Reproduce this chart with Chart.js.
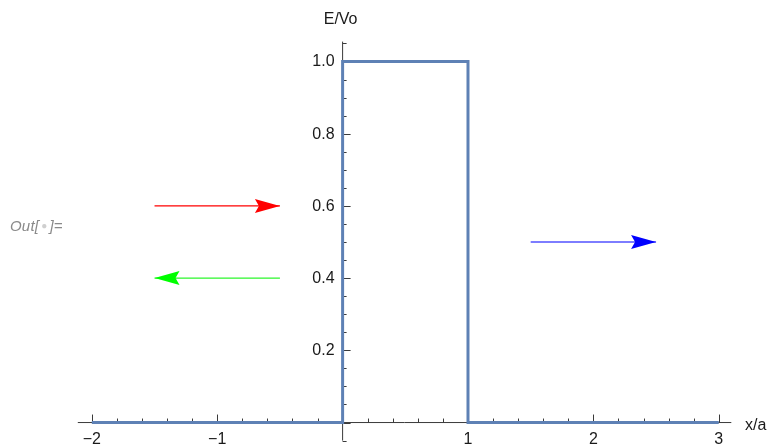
<!DOCTYPE html>
<html>
<head>
<meta charset="utf-8">
<script src="https://cdn.jsdelivr.net/npm/chart.js@4/dist/chart.umd.min.js"></script>
<style>
html,body{margin:0;padding:0;background:#fff;}
#wrap{position:relative;width:770px;height:448px;}
#out{position:absolute;left:10px;top:217px;font-family:"Liberation Sans",Arial,sans-serif;font-style:italic;font-size:15px;color:#8a8a8a;white-space:nowrap;letter-spacing:0.2px;}
#out .dot{color:#cfcfcf;font-style:normal;font-size:10px;vertical-align:2px;padding:0 2px;}
</style>
</head>
<body>
<div id="wrap">
<canvas id="c" width="770" height="448"></canvas>
<div id="out">Out[<span class="dot">&#9679;</span>]=</div>
</div>
<script>
// Step potential E/Vo vs x/a
const stepX = [-2, 0, 0, 1, 1, 3];
const stepY = [0, 0, 1, 1, 0, 0];
// Arrows: start x, end x (tip), y level, colour
const arrowStartX = [-1.5, -0.5, 1.5];
const arrowEndX   = [-0.5, -1.5, 2.5];
const arrowY      = [0.6, 0.4, 0.5];
const arrowColors = ['#ff0000', '#00ff00', '#0000ff'];
const arrowLineColors = ['rgba(255,0,0,1)', 'rgba(20,245,20,0.9)', 'rgba(50,50,255,0.85)'];
// Axis ticks
const xMajorTicks = [-2, -1, 0, 1, 2, 3];
const xTickLabels = ['\u22122', '\u22121', '', '1', '2', '3'];
const yMajorTicks = [0.2, 0.4, 0.6, 0.8, 1.0];
const yTickLabels = ['0.2', '0.4', '0.6', '0.8', '1.0'];
const xRange = [-2.1, 3.1];
const yRange = [-0.05, 1.055];

const FONT = '"Liberation Sans", Arial, sans-serif';

const datasets = [{
  label: 'V',
  data: stepX.map((x, i) => ({x, y: stepY[i]})),
  borderColor: '#5e81b5',
  borderWidth: 3,
  pointRadius: 0,
  tension: 0,
  fill: false,
  order: 0
}];
arrowStartX.forEach((sx, i) => {
  datasets.push({
    label: 'arrow' + i,
    data: [{x: sx, y: arrowY[i]}, {x: arrowEndX[i], y: arrowY[i]}],
    borderColor: arrowLineColors[i],
    borderWidth: 1.3,
    pointRadius: 0,
    fill: false,
    arrow: true,
    headColor: arrowColors[i],
    order: 1
  });
});

const axesPlugin = {
  id: 'axes',
  beforeDatasetsDraw(chart) {
    const ctx = chart.ctx, xs = chart.scales.x, ys = chart.scales.y;
    const x0 = xs.getPixelForValue(0), y0 = ys.getPixelForValue(0);
    ctx.save();
    ctx.strokeStyle = '#3a3a3a';
    ctx.lineWidth = 1;
    ctx.beginPath();
    ctx.moveTo(xs.left - 1.5, y0); ctx.lineTo(xs.right, y0);
    ctx.moveTo(x0, ys.top); ctx.lineTo(x0, ys.bottom);
    ctx.stroke();
    ctx.beginPath();
    for (let k = -10; k <= 15; k++) {
      const v = k / 5;
      const px = Math.round(xs.getPixelForValue(v)) + 0.5;
      const major = k % 5 === 0;
      ctx.moveTo(px, y0); ctx.lineTo(px, y0 - (major ? 8 : 4));
    }
    for (let k = -1; k <= 21; k++) {
      const v = k / 20;
      const py = Math.round(ys.getPixelForValue(v)) + 0.5;
      const major = k % 4 === 0;
      ctx.moveTo(x0, py); ctx.lineTo(x0 + (major ? 8 : 4), py);
    }
    ctx.stroke();
    ctx.fillStyle = '#1a1a1a';
    ctx.font = '16px ' + FONT;
    ctx.textAlign = 'center'; ctx.textBaseline = 'middle';
    xMajorTicks.forEach((v, i) => {
      if (xTickLabels[i]) ctx.fillText(xTickLabels[i], xs.getPixelForValue(v), y0 + 17);
    });
    ctx.textAlign = 'right';
    yMajorTicks.forEach((v, i) => {
      ctx.fillText(yTickLabels[i], x0 - 8, ys.getPixelForValue(v) + 0.5);
    });
    ctx.textAlign = 'center';
    ctx.fillText('E/Vo', x0 - 2, 20);
    ctx.textAlign = 'left';
    ctx.fillText('x/a', 745, y0 + 3);
    ctx.restore();
  },
  afterDatasetsDraw(chart) {
    const ctx = chart.ctx;
    chart.data.datasets.forEach((ds, i) => {
      if (!ds.arrow) return;
      const meta = chart.getDatasetMeta(i);
      const a = meta.data[0], b = meta.data[1];
      const dir = Math.sign(b.x - a.x);
      const L = 25, H = 7, N = 21;
      ctx.save();
      ctx.fillStyle = ds.headColor;
      ctx.beginPath();
      ctx.moveTo(b.x, b.y);
      ctx.lineTo(b.x - dir * L, b.y - H);
      ctx.lineTo(b.x - dir * N, b.y);
      ctx.lineTo(b.x - dir * L, b.y + H);
      ctx.closePath();
      ctx.fill();
      ctx.restore();
    });
  }
};

new Chart(document.getElementById('c'), {
  type: 'line',
  data: { datasets },
  options: {
    responsive: false,
    animation: false,
    layout: { padding: { left: 79.3, right: 38.7, top: 41.6, bottom: 7.4 } },
    plugins: { legend: { display: false }, tooltip: { enabled: false } },
    scales: {
      x: { type: 'linear', min: xRange[0], max: xRange[1], display: false },
      y: { type: 'linear', min: yRange[0], max: yRange[1], display: false }
    }
  },
  plugins: [axesPlugin]
});
</script>
</body>
</html>
